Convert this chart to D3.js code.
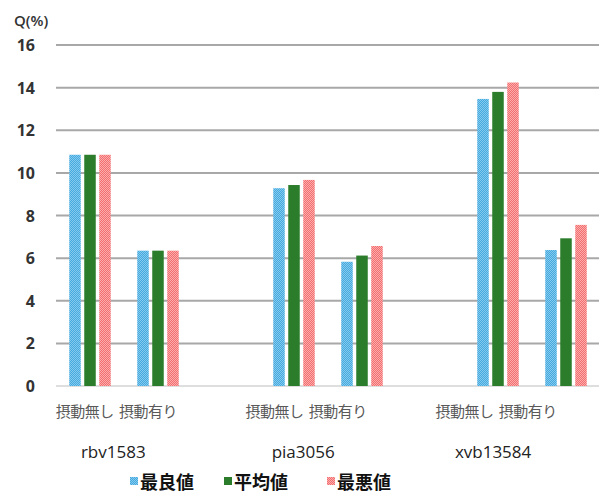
<!DOCTYPE html>
<html>
<head>
<meta charset="utf-8">
<script src="https://cdn.jsdelivr.net/npm/d3@7"></script>
<style>
  body { margin: 0; background: #fff; }
  svg { display: block; }
</style>
</head>
<body>
<svg id="drawing_region"></svg>
<script>
// data
const groups = ['rbv1583', 'pia3056', 'xvb13584'];
const conditions = ['摂動無し', '摂動有り'];
const seriesNames = ['最良値', '平均値', '最悪値'];
const best  = [10.85, 6.35, 9.28, 5.83, 13.47, 6.38];
const avg   = [10.85, 6.35, 9.43, 6.12, 13.80, 6.93];
const worst = [10.85, 6.35, 9.67, 6.57, 14.24, 7.56];
const yTicks = [0, 2, 4, 6, 8, 10, 12, 14, 16];

const width = 606, height = 502;
const colors = ['url(#pat_blue)', '#2b7d2b', 'url(#pat_pink)'];

const svg = d3.select('#drawing_region')
    .attr('width', width)
    .attr('height', height);

// checker patterns for the dotted bars
const defs = svg.append('defs');
function checker(id, c1, c2) {
    const p = defs.append('pattern')
        .attr('id', id)
        .attr('width', 2).attr('height', 2)
        .attr('patternUnits', 'userSpaceOnUse');
    p.append('rect').attr('width', 2).attr('height', 2).attr('fill', c1);
    p.append('rect').attr('width', 1).attr('height', 1).attr('fill', c2);
    p.append('rect').attr('x', 1).attr('y', 1).attr('width', 1).attr('height', 1).attr('fill', c2);
}
checker('pat_blue', '#44a9de', '#86cbee');
checker('pat_pink', '#f36e6e', '#fbacac');

// rows: one per group/condition (third slot of each group stays empty)
const slots = [];
groups.forEach(g => {
    conditions.forEach(c => slots.push(g + '|' + c));
    slots.push(g + '|');
});
const rows = [];
let i = 0;
groups.forEach(g => conditions.forEach(c => {
    rows.push({ key: g + '|' + c, group: g, cond: c, values: [best[i], avg[i], worst[i]] });
    i++;
}));

const plotLeft = 56, plotRight = 599;
const y = d3.scaleLinear().domain([0, 16]).range([386, 45]);
const x = d3.scaleBand().domain(slots).range([plotLeft, plotLeft + 9 * 68]);
const xs = d3.scaleBand().domain(seriesNames).range([13.25, 54.75]).paddingInner(0.233);
// label positions in the reference are slightly compressed
const xl = d3.scaleBand().domain(slots).range([53, 53 + 9 * 63.3]);

// gridlines
svg.append('g')
    .selectAll('line')
    .data(yTicks)
    .join('line')
    .attr('x1', plotLeft)
    .attr('x2', plotRight)
    .attr('y1', d => y(d))
    .attr('y2', d => y(d))
    .attr('stroke', d => d === 0 ? '#dedede' : '#a8a8a8')
    .attr('stroke-width', 2);

// y tick labels
svg.append('g')
    .selectAll('text')
    .data(yTicks)
    .join('text')
    .attr('x', 35)
    .attr('y', d => y(d) + 6)
    .attr('text-anchor', 'end')
    .style('font-family', 'Open Sans, DejaVu Sans, sans-serif')
    .style('font-size', '16px')
    .style('font-weight', 'bold')
    .attr('fill', '#333')
    .text(d => d);

svg.append('text')
    .attr('x', 14)
    .attr('y', 26)
    .style('font-family', 'Open Sans, DejaVu Sans, sans-serif')
    .style('font-size', '15px')
    .style('font-weight', '600')
    .attr('fill', '#333')
    .text('Q(%)');

// bars
const barGroups = svg.append('g')
    .selectAll('g')
    .data(rows)
    .join('g')
    .attr('transform', d => `translate(${x(d.key)},0)`);

barGroups.selectAll('rect')
    .data(d => d.values.map((v, k) => ({ name: seriesNames[k], value: v, k: k })))
    .join('rect')
    .attr('x', d => xs(d.name))
    .attr('width', xs.bandwidth())
    .attr('y', d => y(d.value))
    .attr('height', d => y(0) - y(d.value))
    .attr('fill', d => colors[d.k]);

// condition labels
svg.append('g')
    .selectAll('text')
    .data(rows)
    .join('text')
    .attr('x', d => xl(d.key) + xl.bandwidth() / 2)
    .attr('y', 417)
    .attr('text-anchor', 'middle')
    .style('font-family', 'Noto Sans CJK JP, sans-serif')
    .style('font-size', '15px')
    .style('letter-spacing', '-0.5px')
    .attr('fill', '#595959')
    .text(d => d.cond);

// group labels
svg.append('g')
    .selectAll('text')
    .data(groups)
    .join('text')
    .attr('x', g => (xl(g + '|' + conditions[0]) + xl(g + '|' + conditions[1]) + xl.bandwidth()) / 2 - 3)
    .attr('y', 458)
    .attr('text-anchor', 'middle')
    .style('font-family', 'Open Sans, DejaVu Sans, sans-serif')
    .style('font-size', '17px')
    .attr('fill', '#222')
    .text(g => g);

// legend
const legendX = d3.scaleOrdinal().domain(seriesNames).range([130, 224, 327]);
const legend = svg.append('g')
    .selectAll('g')
    .data(seriesNames)
    .join('g')
    .attr('transform', d => `translate(${legendX(d)},0)`);

legend.append('rect')
    .attr('x', 0)
    .attr('y', 477)
    .attr('width', 8)
    .attr('height', 8)
    .attr('fill', (d, k) => colors[k]);

legend.append('text')
    .attr('x', 10)
    .attr('y', 489)
    .style('font-family', 'Noto Sans CJK JP, sans-serif')
    .style('font-size', '18px')
    .style('font-weight', 'bold')
    .attr('fill', '#111')
    .text(d => d);
</script>
</body>
</html>
